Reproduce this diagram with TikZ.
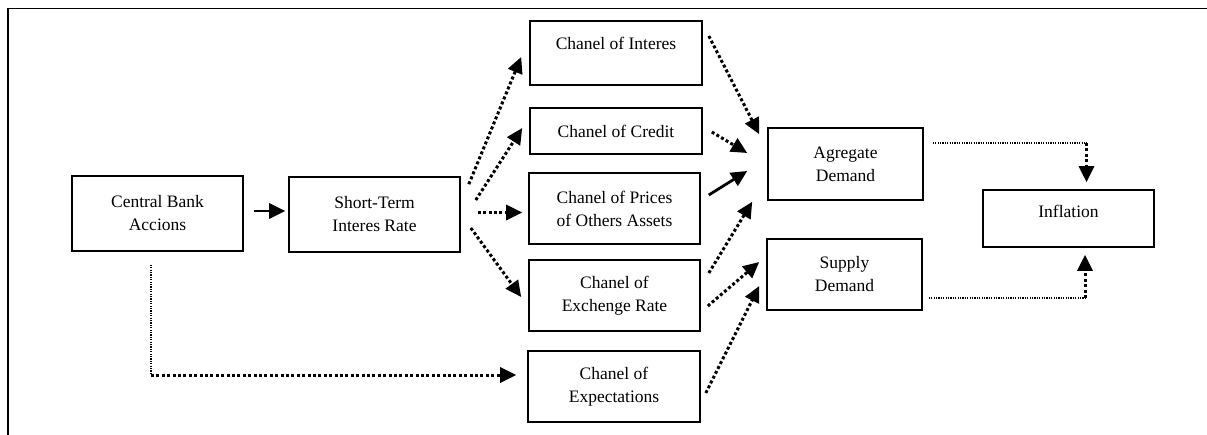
\documentclass[tikz,border=0pt]{standalone}
\usepackage{fontspec}
\setmainfont{Liberation Serif}
\usetikzlibrary{arrows.meta,calc}
\begin{document}
\begin{tikzpicture}[x=1pt,y=-1pt,
  box/.style={draw, line width=1.6pt, inner sep=0pt, align=center,
    font=\fontsize{17.5}{23}\selectfont},
  tipx/.style={-{Triangle[length=16pt,width=15pt]}},
  dotarrow/.style={line width=3pt, dash pattern=on 3pt off 2.4pt, tipx},
  thindot/.style={line width=1.3pt, dash pattern=on 1.2pt off 1.2pt},
  solidarrow/.style={line width=2.8pt, tipx}]
\useasboundingbox (0,0) rectangle (1207,435);
% frame
\draw[line width=1.8pt] (8,436) -- (8,8.5) -- (1208,8.5);
% boxes
\node[box, minimum width=171pt, minimum height=75pt] (cb) at (157.5,213.5) {Central Bank\\Accions};
\node[box, minimum width=171pt, minimum height=75pt] (st) at (374.5,214.5) {Short-Term\\Interes Rate};
\node[box, minimum width=172pt, minimum height=64pt, text height=12pt, text depth=18pt] (ci) at (616,53) {Chanel of Interes};
\node[box, minimum width=172pt, minimum height=46pt] (cc) at (616,131) {Chanel of Credit};
\node[box, minimum width=171pt, minimum height=71pt] (cp) at (614.5,208.5) {Chanel of Prices\\of Others Assets};
\node[box, minimum width=171pt, minimum height=71pt] (ce) at (614.5,295.5) {Chanel of\\Exchenge Rate};
\node[box, minimum width=172pt, minimum height=71pt] (cx) at (614,386.5) {Chanel of\\Expectations};
\node[box, minimum width=155pt, minimum height=72pt] (ad) at (845.5,164) {Agregate\\Demand};
\node[box, minimum width=155pt, minimum height=71pt] (sd) at (844.5,274.5) {Supply\\Demand};
\node[box, minimum width=171pt, minimum height=57pt, text height=12pt, text depth=13pt] (inf) at (1068.5,218.5) {Inflation};
% connectors
\draw[solidarrow] ($(cb.east)+(10,-2.5)$) -- ($(st.west)+(-3,-3.5)$);
\draw[dotarrow] ($(st.north east)+(8,8)$) -- ($(ci.west)+(-8,4)$);
\draw[dotarrow] ($(st.east)+(15,-14.5)$) -- ($(cc.west)+(-7,-3)$);
\draw[dotarrow] ($(st.east)+(17,-2)$) -- ($(cp.west)+(-6,4)$);
\draw[dotarrow] ($(st.east)+(10,13.5)$) -- ($(ce.west)+(-7,1.5)$);
\draw[dotarrow] ($(ci.east)+(6,-17)$) -- ($(ad.north west)+(-8,7)$);
\draw[dotarrow] ($(cc.east)+(9,1)$) -- ($(ad.west)+(-20,-11)$);
\draw[solidarrow] ($(cp.east)+(8,-13.5)$) -- ($(ad.west)+(-20,7)$);
\draw[dotarrow] ($(ce.east)+(8,-22.5)$) -- ($(ad.south west)+(-15,1)$);
\draw[dotarrow] ($(ce.east)+(7,10.5)$) -- ($(sd.west)+(-7,-12.5)$);
\draw[dotarrow] ($(cx.east)+(5,6.5)$) -- ($(sd.west)+(-7,11.5)$);
% central bank to expectations
\coordinate (cbs) at ($(cb.south)+(-6.5,13)$);
\coordinate (cxe) at ($(cx.west)+(-11,-11.5)$);
\coordinate (cbc) at (cbs |- cxe);
\draw[thindot] (cbs) -- (cbc);
\draw[dotarrow] (cbc) -- (cxe);
% demand to inflation
\coordinate (ads) at ($(ad.east)+(9,-21)$);
\coordinate (infn) at ($(inf.north)+(18,-7)$);
\coordinate (adc) at (ads -| infn);
\draw[thindot] (ads) -- (adc);
\draw[dotarrow] (adc) -- (infn);
\coordinate (sds) at ($(sd.east)+(6,23.5)$);
\coordinate (infs) at ($(inf.south)+(16.5,7)$);
\coordinate (sdc) at (sds -| infs);
\draw[thindot] (sds) -- (sdc);
\draw[dotarrow] (sdc) -- (infs);
\end{tikzpicture}
\end{document}
